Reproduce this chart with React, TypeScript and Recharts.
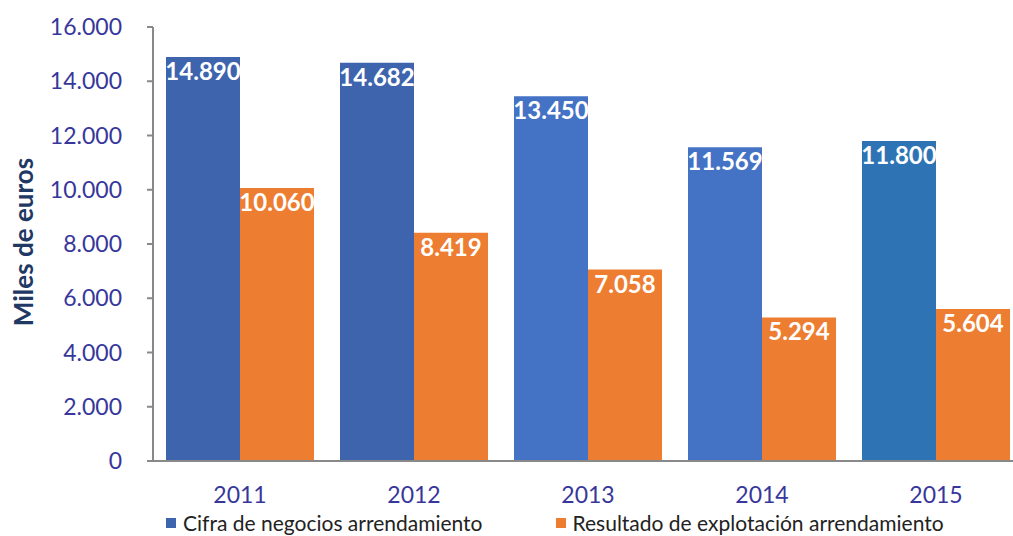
import React from 'react';
import { BarChart, Bar, XAxis, YAxis, Legend, Cell, LabelList, Label } from 'recharts';

const years = ['2011', '2012', '2013', '2014', '2015'];
const cifraNegocios = [14890, 14682, 13450, 11569, 11800];
const resultadoExplotacion = [10060, 8419, 7058, 5294, 5604];
const yTicks = [0, 2000, 4000, 6000, 8000, 10000, 12000, 14000, 16000];

const seriesNames = ['Cifra de negocios arrendamiento', 'Resultado de explotación arrendamiento'];
const blueShades = ['#3D64AD', '#3D64AD', '#4472C4', '#4472C4', '#2E74B5'];
const orange = '#ED7D31';
const tickColor = '#37379B';
const font = 'Lato, "Open Sans", sans-serif';

const chartData = years.map((year, i) => ({
  year,
  cifra: cifraNegocios[i],
  resultado: resultadoExplotacion[i],
}));

// es-ES style thousands separator, also for 4-digit numbers
const formatMiles = (value: number) => String(value).replace(/\B(?=(\d{3})+(?!\d))/g, '.');

const LegendContent = () => (
  <div style={{ display: 'flex', fontFamily: font, fontSize: 21, color: '#222', whiteSpace: 'nowrap' }}>
    {seriesNames.map((name, i) => (
      <div key={name} style={{ display: 'flex', alignItems: 'center', marginRight: i === 0 ? 73 : 0 }}>
        <span style={{ width: 10, height: 10, background: i === 0 ? blueShades[0] : orange, marginRight: 7 }} />
        <span>{name}</span>
      </div>
    ))}
  </div>
);

const App = () => {
  return (
    <div style={{ position: 'absolute', left: 0, top: 0, width: 1013, height: 536, overflow: 'hidden', background: '#fff' }}>
      <BarChart
        width={1030}
        height={536}
        data={chartData}
        margin={{ top: 27, right: 7, left: 0, bottom: 0 }}
        barCategoryGap={13}
        barGap={0}
      >
        <XAxis
          dataKey="year"
          height={75}
          tickLine={false}
          tickSize={0}
          tickMargin={26}
          axisLine={{ stroke: '#898989', strokeWidth: 2 }}
          tick={{ fill: tickColor, fontSize: 23, fontFamily: font }}
        />
        <YAxis
          width={153}
          domain={[0, 16000]}
          ticks={yTicks}
          interval={0}
          tickFormatter={formatMiles}
          tickSize={6}
          tickMargin={25}
          axisLine={{ stroke: '#898989', strokeWidth: 2 }}
          tickLine={{ stroke: '#898989', strokeWidth: 2 }}
          tick={{ fill: tickColor, fontSize: 23, fontFamily: font }}
        >
          <Label
            content={() => (
              <text
                x={23}
                y={242}
                transform="rotate(-90 23 242)"
                textAnchor="middle"
                dominantBaseline="central"
                fill="#1F3864"
                fontSize={26}
                fontWeight="bold"
                fontFamily={font}
              >
                Miles de euros
              </text>
            )}
          />
        </YAxis>
        <Legend
          verticalAlign="middle"
          content={<LegendContent />}
          wrapperStyle={{ top: 510, left: 166, width: 'auto' }}
        />
        <Bar dataKey="cifra" name={seriesNames[0]} isAnimationActive={false}>
          {chartData.map((d, i) => (
            <Cell key={d.year} fill={blueShades[i]} />
          ))}
          <LabelList
            dataKey="cifra"
            position="insideTop"
            offset={6}
            formatter={(v: any) => formatMiles(Number(v))}
            fill="#fff"
            fontSize={24}
            fontWeight="bold"
            fontFamily={font}
          />
        </Bar>
        <Bar dataKey="resultado" name={seriesNames[1]} fill={orange} isAnimationActive={false}>
          <LabelList
            dataKey="resultado"
            position="insideTop"
            offset={6}
            formatter={(v: any) => formatMiles(Number(v))}
            fill="#fff"
            fontSize={24}
            fontWeight="bold"
            fontFamily={font}
          />
        </Bar>
      </BarChart>
    </div>
  );
};

export default App;
